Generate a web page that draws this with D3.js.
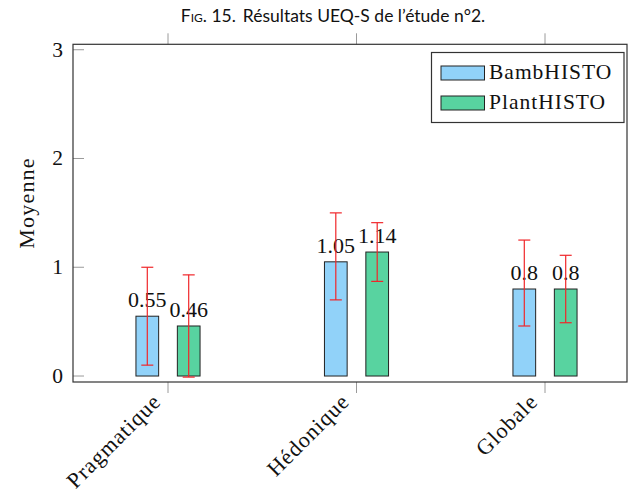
<!DOCTYPE html>
<html><head><meta charset="utf-8">
<script src="https://cdn.jsdelivr.net/npm/d3@7"></script>
<style>
body{margin:0;background:#fff;}
svg{display:block;}
</style></head>
<body>
<svg id="chart" width="628" height="493"></svg>
<script>
const categories = ["Pragmatique", "Hédonique", "Globale"];
const seriesNames = ["BambHISTO", "PlantHISTO"];
const bambValues = [0.55, 1.05, 0.8];
const plantValues = [0.46, 1.14, 0.8];
const bambLabels = ["0.55", "1.05", "0.8"];
const plantLabels = ["0.46", "1.14", "0.8"];
const bambErrLow = [0.10, 0.70, 0.46];
const bambErrHigh = [1.00, 1.50, 1.25];
const plantErrLow = [-0.01, 0.87, 0.49];
const plantErrHigh = [0.93, 1.41, 1.11];
const yTicks = [0, 1, 2, 3];
const colors = ["#91d2f9", "#58d3a0"];

const series = [
  {name: seriesNames[0], values: bambValues, labels: bambLabels, lo: bambErrLow, hi: bambErrHigh, color: colors[0]},
  {name: seriesNames[1], values: plantValues, labels: plantLabels, lo: plantErrLow, hi: plantErrHigh, color: colors[1]}
];

const svg = d3.select("#chart");
const serif = "'Liberation Serif', 'DejaVu Serif', serif";
const frame = {left: 73, right: 627, top: 44.3, bottom: 382};

const x = d3.scalePoint().domain(categories).range([168, 545]);
const xo = d3.scalePoint().domain(seriesNames).range([-20.7, 20.7]);
const barW = 22.7;
const y = d3.scaleLinear().domain([-0.055, 3.05]).range([frame.bottom, frame.top]);

// Title
const title = svg.append("text")
  .attr("x", 333).attr("y", 22)
  .attr("text-anchor", "middle")
  .style("font-family", "Lato, 'Open Sans', sans-serif")
  .style("font-size", "17.5px")
  .attr("fill", "#111");
title.append("tspan").style("font-variant", "small-caps").text("Fig. 15.");
title.append("tspan").attr("dx", 7).text("Résultats UEQ-S de l’étude n°2.");

// Ticks top/bottom (outward)
const g = svg.append("g");
categories.forEach(c => {
  g.append("line").attr("x1", x(c)).attr("x2", x(c)).attr("y1", frame.top).attr("y2", frame.top - 11)
    .attr("stroke", "#9a9a9a").attr("stroke-width", 1);
  g.append("line").attr("x1", x(c)).attr("x2", x(c)).attr("y1", frame.bottom).attr("y2", frame.bottom + 11)
    .attr("stroke", "#9a9a9a").attr("stroke-width", 1);
});
// y ticks inward
yTicks.forEach(t => {
  g.append("line").attr("x1", frame.left).attr("x2", frame.left + 11).attr("y1", y(t)).attr("y2", y(t))
    .attr("stroke", "#9a9a9a").attr("stroke-width", 1);
  g.append("text").attr("x", frame.left - 10).attr("y", y(t) + 7)
    .attr("text-anchor", "end").style("font-family", serif).style("font-size", "21.5px")
    .attr("fill", "#111").text(d3.format("d")(t));
});

// Bars
series.forEach((s, si) => {
  const sg = svg.append("g");
  sg.selectAll("rect").data(categories).enter().append("rect")
    .attr("x", (c) => x(c) + xo(s.name) - barW / 2)
    .attr("y", (c, i) => y(s.values[i]))
    .attr("width", barW)
    .attr("height", (c, i) => y(0) - y(s.values[i]))
    .attr("fill", s.color).attr("stroke", "#222").attr("stroke-width", 1);
});

// Labels
series.forEach(s => {
  svg.append("g").selectAll("text").data(categories).enter().append("text")
    .attr("x", c => x(c) + xo(s.name))
    .attr("y", (c, i) => y(s.values[i]) - 9)
    .attr("text-anchor", "middle").style("font-family", serif).style("font-size", "22px")
    .attr("fill", "#111").text((c, i) => s.labels[i]);
});

// Error bars
series.forEach(s => {
  const eg = svg.append("g").attr("stroke", "#f0262a").attr("stroke-width", 1.2);
  categories.forEach((c, i) => {
    const cx = x(c) + xo(s.name);
    eg.append("line").attr("x1", cx).attr("x2", cx).attr("y1", y(s.lo[i])).attr("y2", y(s.hi[i]));
    eg.append("line").attr("x1", cx - 6).attr("x2", cx + 6).attr("y1", y(s.lo[i])).attr("y2", y(s.lo[i]));
    eg.append("line").attr("x1", cx - 6).attr("x2", cx + 6).attr("y1", y(s.hi[i])).attr("y2", y(s.hi[i]));
  });
});

// Frame
svg.append("rect").attr("x", frame.left).attr("y", frame.top)
  .attr("width", frame.right - frame.left).attr("height", frame.bottom - frame.top)
  .attr("fill", "none").attr("stroke", "#333").attr("stroke-width", 1.2);

// X tick labels rotated
categories.forEach(c => {
  svg.append("text")
    .attr("transform", `translate(${x(c) - 6},${frame.bottom + 21}) rotate(-45)`)
    .attr("text-anchor", "end").style("font-family", serif).style("font-size", "22px")
    .style("letter-spacing", "1px")
    .attr("fill", "#111").text(c);
});

// Y axis label
svg.append("text")
  .attr("transform", `translate(34,203) rotate(-90)`)
  .attr("text-anchor", "middle").style("font-family", serif).style("font-size", "22px")
  .style("letter-spacing", "1.2px")
  .attr("fill", "#111").text("Moyenne");

// Legend
const lg = svg.append("g");
lg.append("rect").attr("x", 431.5).attr("y", 52.5).attr("width", 192.5).attr("height", 70)
  .attr("fill", "#fff").attr("stroke", "#333").attr("stroke-width", 1.2);
series.forEach((s, i) => {
  const yy = 66 + i * 30;
  lg.append("rect").attr("x", 441).attr("y", yy).attr("width", 43.5).attr("height", 14)
    .attr("fill", s.color).attr("stroke", "#222").attr("stroke-width", 1);
  lg.append("text").attr("x", 489).attr("y", yy + 13)
    .style("font-family", serif).style("font-size", "21.5px").style("letter-spacing", "1px")
    .attr("fill", "#111").text(s.name);
});
</script>
</body></html>
